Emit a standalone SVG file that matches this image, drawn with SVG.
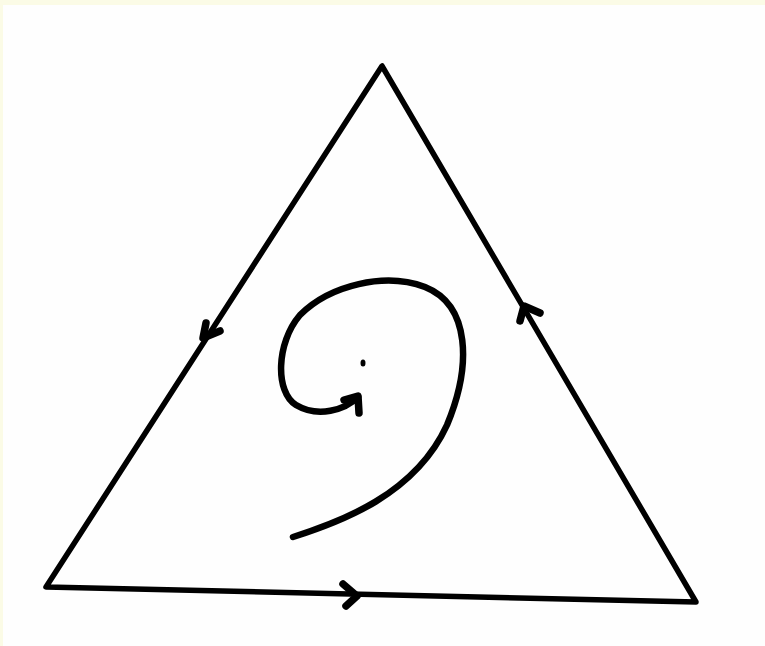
<svg xmlns="http://www.w3.org/2000/svg" width="765" height="646" viewBox="0 0 765 646">
<style>
.ink{fill:none;stroke:#000;stroke-linecap:round;stroke-linejoin:round}
.edge{stroke-width:5.5}
.head{stroke-width:7.5}
.sp{stroke-width:6.5}
</style>
<rect x="0" y="0" width="765" height="646" fill="#FBFBE6"/>
<rect x="3" y="5" width="762" height="641" fill="#FEFEFE"/>
<g id="triangle">
<path class="ink edge" d="M382,66 L46,587 L696,602 Z"/>
</g>
<g id="connectors">
<path class="ink head" d="M206,323 L203,338 L220,331"/>
<path class="ink head" d="M520,321 L524,306 L540,313"/>
<path class="ink head" d="M343,584 L357,596 L346,606"/>
</g>
<g id="spiral">
<path class="ink sp" d="M293,537 C340,522 415,495 447,425 C472,365 470,305 425,287 C385,272 330,285 300,315 C276,343 275,392 296,405 C318,418 345,410 358,397"/>
<path class="ink head" d="M344,400 L358,396 L359,413"/>
<ellipse cx="363" cy="363" rx="2.5" ry="3.5" fill="#000"/>
</g>
</svg>
